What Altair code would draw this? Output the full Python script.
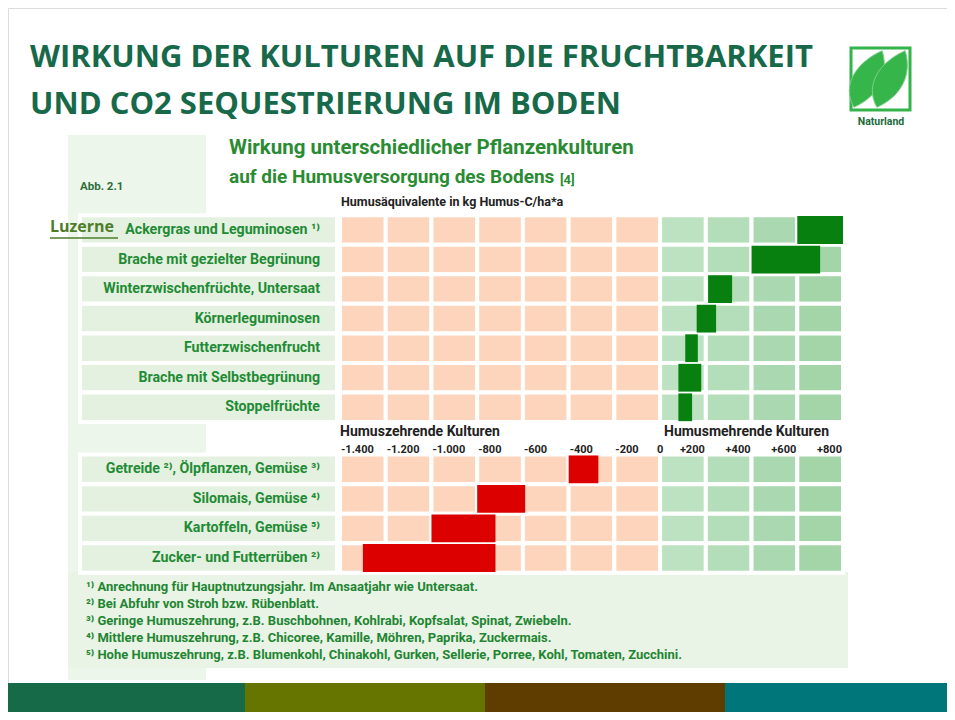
import altair as alt
import pandas as pd

# ---------------- data ----------------
top_labels = ["Ackergras und Leguminosen ¹⁾", "Brache mit gezielter Begrünung",
              "Winterzwischenfrüchte, Untersaat", "Körnerleguminosen",
              "Futterzwischenfrucht", "Brache mit Selbstbegrünung", "Stoppelfrüchte"]
top_low = [600, 400, 210, 160, 110, 80, 80]
top_high = [800, 700, 315, 245, 165, 180, 140]

bottom_labels = ["Getreide ²⁾, Ölpflanzen, Gemüse ³⁾", "Silomais, Gemüse ⁴⁾",
                 "Kartoffeln, Gemüse ⁵⁾", "Zucker- und Futterrüben ²⁾"]
bottom_low = [-400, -800, -1000, -1300]
bottom_high = [-270, -590, -720, -720]

tick_values = [-1400, -1200, -1000, -800, -600, -400, -200, 0, 200, 400, 600, 800]
tick_labels = ["-1.400", "-1.200", "-1.000", "-800", "-600", "-400", "-200", "0",
               "+200", "+400", "+600", "+800"]

footnotes = [
    "¹⁾ Anrechnung für Hauptnutzungsjahr. Im Ansaatjahr wie Untersaat.",
    "²⁾ Bei Abfuhr von Stroh bzw. Rübenblatt.",
    "³⁾ Geringe Humuszehrung, z.B. Buschbohnen, Kohlrabi, Kopfsalat, Spinat, Zwiebeln.",
    "⁴⁾ Mittlere Humuszehrung, z.B. Chicoree, Kamille, Möhren, Paprika, Zuckermais.",
    "⁵⁾ Hohe Humuszehrung, z.B. Blumenkohl, Chinakohl, Gurken, Sellerie, Porree, Kohl, Tomaten, Zucchini.",
]

# ---------------- tables ----------------
rows = pd.DataFrame({
    "label": top_labels + bottom_labels,
    "low": top_low + bottom_low,
    "high": top_high + bottom_high,
    "pos": [float(i) for i in range(len(top_labels))] + [8.1 + i for i in range(len(bottom_labels))],
    "side": ["plus"] * len(top_labels) + ["minus"] * len(bottom_labels),
})
rows["ytop"] = rows["pos"] - 0.5
rows["ybot"] = rows["pos"] + 0.5
rows["btop"] = rows["pos"] - 0.47
rows["bbot"] = rows["pos"] + 0.47

CELL_NEG = "#FDD5BC"
CELL_POS = ["#BDE2C1", "#B4DEB9", "#AAD8B0", "#A3D5A9"]
cells = []
for p in rows["pos"]:
    j = 0
    for k in range(len(tick_values) - 1):
        lo, hi = tick_values[k], tick_values[k + 1]
        if hi <= 0:
            col = CELL_NEG
        else:
            col = CELL_POS[j]
            j += 1
        cells.append({"pos": p, "lo": lo, "hi": hi, "ytop": p - 0.5, "ybot": p + 0.5, "col": col})
cells = pd.DataFrame(cells)

ticks = pd.DataFrame({"v": tick_values, "t": tick_labels})

# ---------------- scales ----------------
O = 8  # page margin
xs = alt.Scale(domain=[-1400, 800], range=[340 - O, 843 - O], zero=False, nice=False)
ys = alt.Scale(domain=[0, 11.1], range=[230 - O, 558 - O], zero=False, nice=False)

one = pd.DataFrame({"k": [0]})
GREEN_T = "#17694A"
LBL = "#1F8B35"
FONT_C = "Roboto"


def box(x0, y0, x1, y1, color, **kw):
    return alt.Chart(one).mark_rect(color=color, **kw).encode(
        x=alt.value(x0 - O), x2=alt.value(x1 - O), y=alt.value(y0 - O), y2=alt.value(y1 - O))


def txt(x, y, text, size, color, weight="bold", align="left", font=FONT_C, baseline="middle"):
    return alt.Chart(one).mark_text(text=text, fontSize=size, color=color, fontWeight=weight,
                                    align=align, baseline=baseline, font=font).encode(
        x=alt.value(x - O), y=alt.value(y - O))


layers = []
# image panel background
layers.append(box(66, 134, 850, 684, "#FFFFFF"))
layers.append(box(68, 135, 206, 680, "#EDF6EA"))
layers.append(box(68, 572, 848, 668, "#E9F4E6"))

# row label boxes
layers.append(alt.Chart(rows).mark_rect(color="#E4F1E0", stroke="#FFFFFF", strokeWidth=4).encode(
    x=alt.value(80 - O), x2=alt.value(337 - O),
    y=alt.Y("ytop:Q", scale=ys, axis=None), y2="ybot:Q"))

# grid cells
layers.append(alt.Chart(cells).mark_rect(stroke="#FFFFFF", strokeWidth=4).encode(
    x=alt.X("lo:Q", scale=xs, axis=None), x2="hi:Q",
    y=alt.Y("ytop:Q", scale=ys, axis=None), y2="ybot:Q",
    fill=alt.Fill("col:N", scale=None)))

# value bars
layers.append(alt.Chart(rows[rows.side == "plus"]).mark_rect(color="#07800F").encode(
    x=alt.X("low:Q", scale=xs, axis=None), x2="high:Q",
    y=alt.Y("btop:Q", scale=ys, axis=None), y2="bbot:Q"))
layers.append(alt.Chart(rows[rows.side == "minus"]).mark_rect(color="#DC0000").encode(
    x=alt.X("low:Q", scale=xs, axis=None), x2="high:Q",
    y=alt.Y("btop:Q", scale=ys, axis=None), y2="bbot:Q"))

# row labels
layers.append(alt.Chart(rows).mark_text(align="right", baseline="middle", fontSize=14.2,
                                        fontWeight="bold", color=LBL, font=FONT_C).encode(
    x=alt.value(320 - O), y=alt.Y("pos:Q", scale=ys, axis=None), text="label:N"))

# tick labels
tick_style = dict(baseline="middle", fontSize=11, fontWeight="bold", color="#222222", font=FONT_C)
TY = 450
layers.append(alt.Chart(ticks[ticks.v < 0]).mark_text(align="left", dx=1, **tick_style).encode(
    x=alt.X("v:Q", scale=xs, axis=None), y=alt.value(TY - O), text="t:N"))
layers.append(alt.Chart(ticks[ticks.v == 0]).mark_text(align="center", **tick_style).encode(
    x=alt.X("v:Q", scale=xs, axis=None), y=alt.value(TY - O), text="t:N"))
layers.append(alt.Chart(ticks[ticks.v > 0]).mark_text(align="right", dx=-1, **tick_style).encode(
    x=alt.X("v:Q", scale=xs, axis=None), y=alt.value(TY - O), text="t:N"))

# headers inside figure
layers.append(txt(340, 432, "Humuszehrende Kulturen", 14, "#222222"))
layers.append(txt(664, 432, "Humusmehrende Kulturen", 14, "#222222"))
layers.append(txt(341, 202, "Humusäquivalente in kg Humus-C/ha*a", 12.5, "#222222"))
layers.append(txt(229, 148, "Wirkung unterschiedlicher Pflanzenkulturen", 20.5, "#2A8B33"))
layers.append(txt(229, 177, "auf die Humusversorgung des Bodens", 19, "#2A8B33"))
layers.append(txt(560, 180, "[4]", 13, "#2A8B33"))
layers.append(txt(80, 187, "Abb. 2.1", 11.5, "#2F6E3B"))

# footnotes
for i, line in enumerate(footnotes):
    layers.append(txt(86, 587 + i * 17, line, 13, "#1F8532", weight="bold"))

# Luzerne link
layers.append(txt(50, 227, "Luzerne", 16, "#4E7D2A", font="Open Sans"))
layers.append(alt.Chart(one).mark_rule(color="#4E7D2A", strokeWidth=1.5).encode(
    x=alt.value(50 - O), x2=alt.value(118 - O), y=alt.value(238 - O)))

# slide title
layers.append(txt(30, 58, "WIRKUNG DER KULTUREN AUF DIE FRUCHTBARKEIT", 31, GREEN_T, font="Open Sans"))
layers.append(txt(30, 105, "UND CO2 SEQUESTRIERUNG IM BODEN", 31, GREEN_T, font="Open Sans"))

# logo
layers.append(alt.Chart(one).mark_rect(fill="#FFFFFF", stroke="#33B44A", strokeWidth=3).encode(
    x=alt.value(851 - O), x2=alt.value(910 - O), y=alt.value(48 - O), y2=alt.value(110 - O)))
leaf = "M -0.5 1 C -0.95 0.2 -0.4 -0.6 0.5 -1 C 0.75 -0.2 0.4 0.6 -0.5 1 Z"
for cx in (868, 891):
    layers.append(alt.Chart(one).mark_point(shape=leaf, filled=True, fill="#36B54B", stroke="#7FD08A",
                                            strokeWidth=1, size=3200, opacity=1).encode(
        x=alt.value(cx - O), y=alt.value(79 - O)))
layers.append(txt(881, 122, "Naturland", 10.5, "#1B6B3A", align="center", font="Roboto"))

# bottom stripes
layers.append(box(8, 683, 245, 720, "#166A48"))
layers.append(box(245, 683, 485, 720, "#667400"))
layers.append(box(485, 683, 725, 720, "#5F3D00"))
layers.append(box(725, 683, 960, 720, "#00767A"))

chart = alt.layer(*layers).properties(
    width=939, height=704, autosize=alt.AutoSizeParams(type="none"), padding=0
).configure_view(stroke=None).configure(background="#FFFFFF")

chart.save("out.html", embed_options={"renderer": "svg", "actions": False})
